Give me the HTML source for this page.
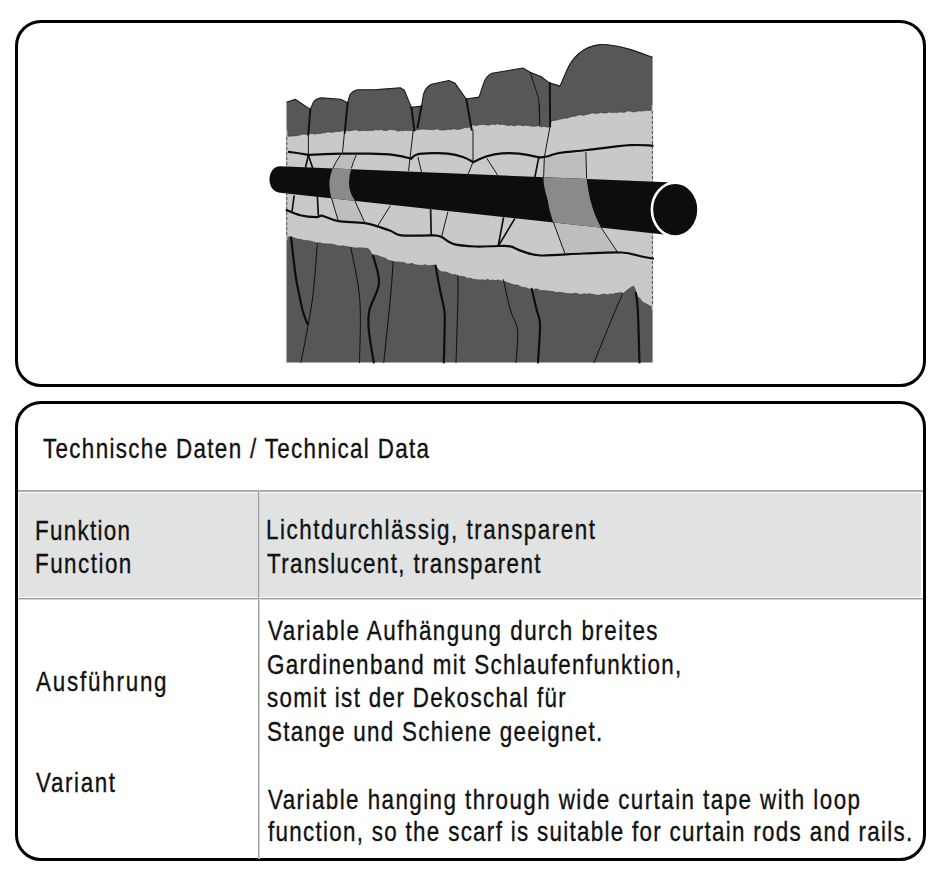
<!DOCTYPE html>
<html><head><meta charset="utf-8">
<style>
html,body{margin:0;padding:0;background:#fff;width:940px;height:880px;overflow:hidden;position:relative}
.box{position:absolute;box-sizing:border-box;border:3px solid #000;border-radius:26px;left:15px;width:911px}
#b1{top:20px;height:367px}
#b2{top:401px;height:460px;overflow:hidden}
.t{position:absolute;font-family:"Liberation Sans",sans-serif;font-size:28px;line-height:32px;white-space:pre;color:#111;transform-origin:0 0;-webkit-text-stroke:0.35px #111}
.fill{position:absolute;background:#e1e2e2}
.hl{position:absolute;height:2px;background:#ababab}
.vl{position:absolute;width:1px;background:#a0a0a0;box-shadow:1px 0 0 #d4d4d4}
svg{position:absolute;left:0;top:0}
</style></head><body>
<div class="box" id="b1"></div>
<svg width="940" height="880" viewBox="0 0 940 880">
<defs><clipPath id="rodclip"><path d="M280,166.3 L667.5,182.3 L664,234.4 L280,192.7 C274,192.4 269.5,187 269.5,179.5 C269.5,172 274,166.3 280,166.3 Z"/></clipPath></defs>
<path fill="#575755" d="M286.5,362.5 L286.5,102.3 L295.2,99.3 L310.3,109.4 L313.4,102.3 Q316,98.5 321.4,97.9 L340.6,99.3 L347.7,102.7 L349.7,95.3 Q352,91 357.8,89.8 L377,89.6 L400.3,87.8 L404.3,90.2 L411.4,107.4 L421.5,106 L423.5,94.3 Q426,86.5 431.6,84.2 L448.8,80.5 L454.9,83.1 L466.2,99 L479.1,97.1 L483.4,83.9 Q486,76 491.9,73.3 L522.8,68 L530.2,72.2 L540.9,76.5 L549.4,82.9 L560,86.1 L566.4,71.2 C572,58 583,46 600,44.6 C618,44 638,52 652.6,57.3 L652.6,362.5 Z"/>
<path fill="none" stroke="#1a1a1a" stroke-width="1.1" stroke-linejoin="round" d="M286.5,102.3 L295.2,99.3 L310.3,109.4 L313.4,102.3 Q316,98.5 321.4,97.9 L340.6,99.3 L347.7,102.7 L349.7,95.3 Q352,91 357.8,89.8 L377,89.6 L400.3,87.8 L404.3,90.2 L411.4,107.4 L421.5,106 L423.5,94.3 Q426,86.5 431.6,84.2 L448.8,80.5 L454.9,83.1 L466.2,99 L479.1,97.1 L483.4,83.9 Q486,76 491.9,73.3 L522.8,68 L530.2,72.2 L540.9,76.5 L549.4,82.9 L560,86.1 L566.4,71.2 C572,58 583,46 600,44.6 C618,44 638,52 652.6,57.3"/>
<path fill="#c9c9c9" stroke="#3a3a3a" stroke-width="0.6" d="M286.5,136.1 L289.3,136.3 L292.2,135.9 L295.0,135.9 L298.1,135.6 L301.1,134.4 L304.2,134.0 L307.3,134.8 L309.8,133.7 L312.4,133.5 L314.9,134.3 L317.5,133.4 L320.0,133.7 L322.6,132.9 L325.2,132.8 L327.8,131.9 L330.4,132.3 L333.0,132.3 L335.9,131.5 L338.9,131.5 L341.8,131.1 L344.7,130.0 L347.6,130.9 L350.5,130.7 L353.4,130.2 L356.2,129.8 L359.1,130.9 L362.0,130.4 L364.7,130.6 L367.4,130.7 L370.1,130.4 L372.9,130.5 L375.6,129.7 L378.3,130.1 L381.0,129.5 L383.8,130.4 L386.7,130.5 L389.5,129.5 L392.3,129.8 L395.2,130.0 L398.0,131.3 L400.6,130.5 L403.1,130.8 L405.7,130.3 L408.3,130.6 L410.8,130.4 L413.4,130.4 L416.1,130.1 L418.8,129.4 L421.5,129.2 L424.1,129.0 L426.8,129.4 L429.4,129.4 L432.1,129.7 L434.7,129.4 L437.4,128.8 L440.0,129.9 L442.8,130.0 L445.5,129.9 L448.2,129.3 L451.0,129.5 L453.8,128.7 L456.5,129.6 L459.2,129.2 L462.0,128.7 L464.7,127.5 L467.4,127.7 L470.1,127.0 L472.8,124.8 L475.7,125.7 L478.5,125.0 L481.4,124.5 L484.3,124.6 L487.1,125.1 L490.0,125.1 L492.5,123.9 L495.0,124.7 L497.6,123.8 L500.1,124.7 L502.6,124.2 L505.5,125.1 L508.4,125.5 L511.3,125.0 L514.2,125.9 L517.1,125.1 L520.0,125.0 L522.7,125.9 L525.3,125.2 L528.0,125.6 L530.7,126.0 L533.4,126.4 L536.0,125.9 L538.7,125.9 L541.4,127.0 L544.0,126.2 L546.7,127.1 L549.4,127.1 L550.5,123.6 L551.5,120.9 L554.2,120.4 L556.9,120.0 L559.6,119.3 L562.3,118.7 L565.0,118.2 L567.6,118.1 L570.2,117.0 L572.7,116.4 L575.3,116.3 L577.9,115.1 L580.7,114.8 L583.5,115.4 L586.4,114.4 L589.2,114.0 L592.0,112.9 L594.9,113.3 L597.8,113.4 L600.8,112.4 L603.7,113.0 L606.6,112.9 L609.2,112.0 L611.8,112.6 L614.4,112.3 L617.0,112.5 L619.6,111.9 L622.2,112.3 L624.8,112.2 L627.4,111.1 L630.0,111.0 L632.5,111.7 L635.0,112.0 L637.5,110.9 L640.0,111.0 L642.6,111.1 L645.1,110.6 L647.6,110.6 L650.1,110.4 L652.6,110.5 L652.6,306.8 L649.7,305.8 L646.7,304.1 L643.8,302.8 L641.8,301.3 L639.8,298.3 L637.8,297.0 L636.8,294.5 L635.8,291.1 L634.7,288.2 L633.7,286.2 L631.2,287.2 L628.7,288.9 L626.1,291.0 L623.6,293.2 L620.9,292.6 L618.2,293.1 L615.5,293.3 L612.8,294.3 L610.2,293.9 L607.5,294.7 L604.8,294.0 L602.1,294.4 L599.4,295.1 L596.8,295.3 L594.3,294.6 L591.7,294.1 L589.2,293.8 L586.6,294.3 L584.0,293.7 L581.5,294.4 L578.9,294.3 L576.4,293.3 L573.8,293.3 L571.2,293.9 L568.7,293.5 L566.1,293.6 L563.6,292.8 L561.0,292.4 L558.5,292.3 L555.9,292.6 L553.4,291.6 L550.9,291.3 L548.3,291.1 L545.8,290.7 L543.3,290.4 L540.7,290.8 L538.2,289.3 L535.7,288.8 L533.1,289.8 L530.6,289.3 L528.1,288.8 L525.6,287.4 L523.0,287.4 L520.5,286.7 L518.0,285.1 L515.5,285.1 L512.9,284.6 L510.4,283.7 L507.9,282.8 L505.4,281.8 L502.8,281.2 L500.3,280.4 L497.8,280.0 L495.2,280.6 L492.7,280.0 L490.2,280.5 L487.7,279.3 L485.1,280.3 L482.6,279.8 L480.1,280.0 L477.6,279.8 L475.1,279.6 L472.5,279.0 L470.0,278.0 L467.5,278.4 L464.9,276.9 L462.4,276.4 L459.9,276.3 L457.4,275.4 L454.9,274.6 L452.3,274.7 L449.8,273.6 L447.3,272.6 L444.8,271.8 L442.2,272.0 L439.7,270.8 L437.6,268.6 L435.6,265.5 L433.0,265.1 L430.4,265.5 L427.8,265.7 L425.3,264.7 L422.7,265.4 L420.1,265.4 L417.5,265.1 L414.8,264.8 L412.1,263.3 L409.4,263.9 L406.7,263.9 L404.0,262.4 L401.3,262.4 L398.6,262.0 L395.9,262.1 L393.2,261.6 L390.7,260.8 L388.1,260.3 L385.6,258.3 L383.1,257.5 L380.6,256.7 L378.1,255.8 L375.5,254.9 L373.0,255.3 L371.3,253.1 L369.6,250.0 L367.9,248.5 L365.0,248.1 L362.2,247.9 L359.4,247.8 L356.5,248.0 L353.6,247.8 L350.8,247.3 L348.2,246.7 L345.7,246.5 L343.1,245.8 L340.5,246.0 L338.0,245.9 L335.4,245.0 L332.8,244.2 L330.2,244.0 L327.7,243.9 L325.1,243.8 L322.5,243.7 L320.0,242.7 L317.4,242.9 L314.5,242.2 L311.7,241.4 L308.8,240.8 L305.9,240.4 L303.1,240.2 L300.2,239.3 L297.5,239.1 L294.7,238.1 L292.0,237.2 L289.2,237.1 L286.5,236.4 Z"/>
<path fill="none" stroke="#c9c9c9" stroke-width="1.2" d="M286.8,130 L286.8,240 M652.3,105 L652.3,310"/>
<path fill="none" stroke="#444" stroke-width="0.9" stroke-dasharray="3,2" d="M286.8,137 L286.8,236 M652.4,111 L652.4,306"/>
<path fill="#bdbfbe" d="M340.9,154.3 L356.2,155.3 Q348.5,172 349.1,184 Q349.5,193 354.2,199.3 L364.4,221.8 L338.3,220.8 L334.8,209.5 Q329.5,195 329.4,184 Q329.5,170 340.9,154.3 Z"/>
<path fill="#bdbfbe" d="M544.3,157.7 L585.9,152.3 L586.6,178.2 Q588,190 590,198.7 Q594,215 600.9,227.3 L617.3,251.9 L564.8,253.2 L553.2,221.9 Q549,210 547.7,200 Q543,185 543.6,178.2 Z"/>
<g fill="none" stroke="#161616" stroke-width="1" stroke-linecap="round">
<path d="M308.4,132 L308.4,155.2"/><path d="M344.5,132 L342.5,152.5 L340.9,154.3 Q335,163 333,168"/><path d="M356.2,155.3 Q353,162 351.5,168"/><path d="M413.2,130.5 L408.6,170.5"/><path d="M418,157.4 L421.5,172"/><path d="M473,130 L473,162 L468,174.5"/><path d="M487,158.6 L497.5,175"/><path d="M550,126.5 L544.3,157.7 L543.6,178.2"/><path d="M585.9,152.3 L586.6,178.2"/><path d="M331.5,198 L334.8,209.5 L338.3,220.8"/><path d="M354.2,199.3 L364.4,221.8"/><path d="M390.2,206 L378,225.3"/><path d="M447.8,212.1 L441.7,236.4"/><path d="M553.2,221.9 L564.8,253.2"/><path d="M600.9,227.3 L617.3,251.9"/><path d="M539.6,105 L539.6,124"/>
<path d="M530.2,72.2 L538.7,98.8 L539.8,124.4"/>
</g>
<g fill="none" stroke="#111" stroke-width="1.7" stroke-linecap="round" stroke-linejoin="round">
<path d="M308.4,155.2 L305.6,167"/><path d="M308.4,155.2 L312.5,167.5"/><path d="M538.5,158.6 L535,176.5"/><path d="M294.1,196 L292.1,211.1"/><path d="M317.4,197 L318.4,216.2"/><path d="M430.6,209.1 L431.2,235.4"/><path d="M503.4,218.1 L498.3,245.4"/><path d="M514.5,219.1 L499.3,244.4"/>
</g>
<g fill="none" stroke="#111" stroke-width="2" stroke-linecap="round">
<path d="M310.3,109.4 L308.3,134.7"/><path d="M347.7,102.7 L344.7,132.7"/><path d="M411.4,107.4 L414.4,130.6"/><path d="M421.5,106 L417.5,127.6"/><path d="M466.2,99 L471.7,129.7"/><path d="M549.8,83 L550.1,126.5"/>
</g>
<g fill="none" stroke="#0d0d0d" stroke-width="2.2" stroke-linecap="round" stroke-linejoin="round">
<path d="M288.9,151.9 C290.8,152.2 296.8,153.0 300.0,153.5 C303.2,154.0 306.9,154.7 308.3,154.9"/><path d="M308.3,154.9 C311.0,154.8 319.0,154.3 324.7,154.1 C330.4,153.9 335.2,153.8 342.6,153.7 C350.1,153.6 361.0,153.5 369.4,153.7 C377.8,153.9 386.2,154.1 393.2,154.9 C400.1,155.7 408.1,158.0 411.1,158.6"/><path d="M411.1,158.6 C412.1,157.9 413.5,155.4 417.0,154.5 C420.5,153.6 426.9,153.3 432.0,153.2 C437.1,153.0 442.5,153.0 447.7,153.6 C452.9,154.2 458.8,155.6 463.0,157.0 C467.2,158.4 471.5,161.2 473.2,162.1"/><path d="M473.2,162.1 C475.5,161.1 482.0,157.7 486.8,156.2 C491.6,154.7 496.7,153.7 502.1,153.3 C507.5,152.9 512.9,152.9 519.1,153.6 C525.4,154.3 536.2,156.8 539.6,157.5"/><path d="M539.6,157.5 C541.0,157.3 544.7,157.0 548.1,156.2 C551.5,155.4 553.5,153.8 560.0,152.8 C566.5,151.8 575.8,151.3 587.4,150.0 C599.0,148.7 618.7,145.9 629.6,145.2 C640.5,144.5 648.8,145.5 652.6,145.6"/>
<path d="M286.7,210.1 C288.9,210.9 295.2,214.0 300.2,215.2 C305.1,216.4 312.7,217.1 316.4,217.2 C320.1,217.3 318.7,215.1 322.4,215.8 C326.1,216.5 331.5,220.0 338.6,221.2 C345.7,222.4 356.5,221.7 364.9,223.2 C373.3,224.7 383.1,228.3 389.2,230.3 C395.3,232.3 394.2,234.6 401.3,235.4 C408.4,236.2 424.9,235.2 431.6,235.4 C438.3,235.6 437.7,235.4 441.3,236.8 C444.9,238.2 447.5,242.3 453.2,243.9 C458.9,245.5 467.8,246.2 475.3,246.5 C482.8,246.8 492.5,246.0 498.3,246.0 C504.1,246.0 506.3,245.5 510.4,246.4 C514.4,247.3 517.5,249.9 522.6,251.4 C527.7,252.9 530.7,255.2 540.8,255.5 C550.9,255.8 569.7,254.0 583.2,253.5 C596.7,253.0 611.8,252.0 621.6,252.5 C631.4,253.0 636.6,255.5 641.8,256.5 C647.0,257.5 651.0,258.2 652.9,258.5"/>
</g>
<g fill="none" stroke="#0d0d0d" stroke-linecap="round" stroke-linejoin="round">
<path stroke-width="2.2" d="M291.1,237.4 C291.8,243.7 294.1,265.2 295.5,275.0 C296.9,284.8 298.2,289.8 299.5,296.0 C300.8,302.2 301.7,307.3 303.0,312.0 C304.3,316.7 306.8,322.0 307.5,324.0"/><path stroke-width="1.0" d="M317.4,243.5 C316.5,252.9 315.0,280.2 312.3,300.0 C309.6,319.8 302.9,352.1 301.0,362.5"/><path stroke-width="1.0" d="M350.8,247.5 C352.3,256.2 358.4,280.8 359.8,300.0 C361.2,319.2 359.6,352.1 359.5,362.5"/><path stroke-width="2.2" d="M373.0,255.6 C374.0,260.1 379.6,273.8 379.0,282.9 C378.4,292.0 371.2,302.1 369.5,310.0 C367.8,317.9 368.0,321.2 368.8,330.0 C369.5,338.8 372.9,357.1 373.8,362.5"/><path stroke-width="1.0" d="M393.2,261.7 C392.7,268.1 391.8,283.2 390.2,300.0 C388.6,316.8 384.8,352.1 383.8,362.5"/><path stroke-width="2.2" d="M435.6,265.7 C436.3,269.8 438.5,282.3 440.0,290.0 C441.5,297.7 443.8,304.5 444.5,312.0 C445.2,319.5 444.6,326.6 444.5,335.0 C444.4,343.4 443.9,357.9 443.8,362.5"/><path stroke-width="1.0" d="M457.9,275.8 C457.9,279.8 458.2,285.6 457.9,300.0 C457.6,314.4 456.3,352.1 456.0,362.5"/><path stroke-width="1.0" d="M503.4,279.7 C504.6,284.8 508.0,301.6 510.4,310.0 C512.8,318.4 516.6,321.2 517.5,330.0 C518.4,338.8 516.2,357.1 516.0,362.5"/><path stroke-width="2.2" d="M531.7,288.8 C532.5,292.3 535.3,304.0 536.7,310.0 C538.1,316.0 539.8,316.2 540.0,325.0 C540.2,333.8 538.3,356.2 538.0,362.5"/><path stroke-width="1.0" d="M622.6,293.9 C621.4,296.6 620.3,298.6 615.5,310.0 C610.7,321.4 597.6,353.8 594.0,362.5"/><path stroke-width="2.2" d="M635.8,292.9 C636.1,295.8 637.2,298.4 637.8,310.0 C638.4,321.6 639.2,353.8 639.5,362.5"/>
</g>
<path fill="#0d0d0d" d="M280,166.3 L667.5,182.3 L664,234.4 L280,192.7 C274,192.4 269.5,187 269.5,179.5 C269.5,172 274,166.3 280,166.3 Z"/>
<g clip-path="url(#rodclip)"><path fill="#8a8a8a" d="M340.9,154.3 L356.2,155.3 Q348.5,172 349.1,184 Q349.5,193 354.2,199.3 L364.4,221.8 L338.3,220.8 L334.8,209.5 Q329.5,195 329.4,184 Q329.5,170 340.9,154.3 Z"/><path fill="#8a8a8a" d="M544.3,157.7 L585.9,152.3 L586.6,178.2 Q588,190 590,198.7 Q594,215 600.9,227.3 L617.3,251.9 L564.8,253.2 L553.2,221.9 Q549,210 547.7,200 Q543,185 543.6,178.2 Z"/></g>
<ellipse cx="675.2" cy="209.6" rx="23.3" ry="26.9" fill="#0d0d0d" stroke="#fff" stroke-width="2.6"/>
</svg>








<div class="box" id="b2"></div>
<div class="fill" style="left:19px;top:493px;width:902px;height:104px"></div>
<div class="hl" style="left:18px;top:490px;width:905px"></div>
<div class="hl" style="left:18px;top:598px;width:905px;height:1px;background:#9c9c9c"></div>
<div class="hl" style="left:18px;top:599px;width:905px;height:1px;background:#d6d6d6"></div>
<div class="vl" style="left:258px;top:490px;height:369px"></div>

<div class="t" style="left:42.6px;top:433px;letter-spacing:1.672px;transform:scaleX(0.8)">Technische Daten / Technical Data</div>
<div class="t" style="left:34.8px;top:514.5px;letter-spacing:1.625px;transform:scaleX(0.8)">Funktion</div>
<div class="t" style="left:34.8px;top:547.8px;letter-spacing:1.857px;transform:scaleX(0.8)">Function</div>
<div class="t" style="left:265.7px;top:514.2px;letter-spacing:1.902px;transform:scaleX(0.8)">Lichtdurchlässig, transparent</div>
<div class="t" style="left:267.3px;top:547.7px;letter-spacing:1.712px;transform:scaleX(0.8)">Translucent, transparent</div>
<div class="t" style="left:267.6px;top:615px;letter-spacing:1.855px;transform:scaleX(0.8)">Variable Aufhängung durch breites</div>
<div class="t" style="left:266.8px;top:648.5px;letter-spacing:1.680px;transform:scaleX(0.8)">Gardinenband mit Schlaufenfunktion,</div>
<div class="t" style="left:266.8px;top:682.2px;letter-spacing:1.678px;transform:scaleX(0.8)">somit ist der Dekoschal für</div>
<div class="t" style="left:266.8px;top:715.8px;letter-spacing:1.625px;transform:scaleX(0.8)">Stange und Schiene geeignet.</div>
<div class="t" style="left:267.6px;top:784px;letter-spacing:1.792px;transform:scaleX(0.8)">Variable hanging through wide curtain tape with loop</div>
<div class="t" style="left:267.6px;top:816.3px;letter-spacing:1.617px;transform:scaleX(0.8)">function, so the scarf is suitable for curtain rods and rails.</div>
<div class="t" style="left:35.8px;top:665.8px;letter-spacing:2.222px;transform:scaleX(0.8)">Ausführung</div>
<div class="t" style="left:35.8px;top:767px;letter-spacing:2.021px;transform:scaleX(0.8)">Variant</div>
</body></html>
